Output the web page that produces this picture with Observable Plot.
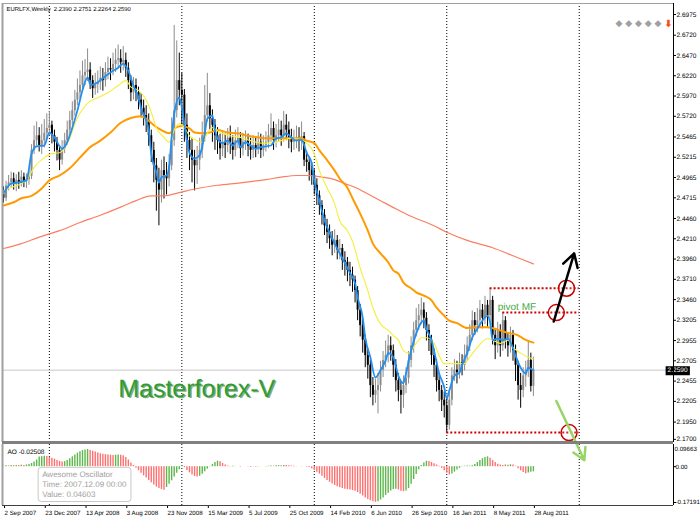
<!DOCTYPE html>
<html><head><meta charset="utf-8">
<script src="https://cdn.jsdelivr.net/npm/d3@7"></script>
<script src="https://cdn.jsdelivr.net/npm/@observablehq/plot@0.6"></script>
<style>
body{margin:0;background:#fff;}
#wrap{position:relative;width:700px;height:519px;overflow:hidden;background:#fff;}
#wrap svg{position:absolute;left:0;text-rendering:geometricPrecision;}
</style></head><body><div id="wrap"></div>
<script>
// ---------- data ----------
const symbol = "EURLFX", period = "Weekly";
const firstOpen = 2.476;
const closes = [
2.471,2.486,2.490,2.495,2.488,2.493,2.489,2.497,2.492,2.494,
2.498,2.530,2.542,2.548,2.536,2.542,2.551,2.557,2.561,2.548,
2.540,2.530,2.518,2.532,2.542,2.555,2.567,2.579,2.592,2.601,
2.610,2.622,2.626,2.629,2.616,2.606,2.611,2.614,2.619,2.616,
2.626,2.631,2.629,2.636,2.641,2.643,2.638,2.641,2.631,2.616,
2.601,2.610,2.601,2.592,2.582,2.573,2.567,2.548,2.530,2.511,
2.493,2.481,2.505,2.499,2.495,2.511,2.542,2.579,2.616,2.604,
2.598,2.561,2.542,2.530,2.518,2.511,2.518,2.530,2.548,2.573,
2.585,2.569,2.561,2.548,2.542,2.532,2.540,2.536,2.545,2.539,
2.530,2.542,2.545,2.532,2.540,2.542,2.535,2.530,2.536,2.532,
2.540,2.530,2.536,2.540,2.548,2.557,2.542,2.548,2.555,2.548,
2.561,2.555,2.545,2.540,2.542,2.545,2.542,2.547,2.518,2.515,
2.505,2.499,2.487,2.474,2.462,2.450,2.437,2.429,2.421,2.413,
2.419,2.407,2.409,2.394,2.392,2.382,2.376,2.370,2.357,2.333,
2.314,2.296,2.277,2.265,2.240,2.228,2.234,2.240,2.259,2.271,
2.277,2.289,2.283,2.265,2.246,2.234,2.228,2.240,2.249,2.271,
2.289,2.308,2.320,2.326,2.333,2.323,2.308,2.296,2.277,2.265,
2.246,2.234,2.222,2.215,2.191,2.222,2.252,2.259,2.256,2.268,
2.265,2.277,2.289,2.302,2.320,2.314,2.320,2.333,2.323,2.339,
2.326,2.345,2.302,2.289,2.308,2.289,2.320,2.296,2.289,2.302,
2.283,2.265,2.240,2.234,2.252,2.259,2.271,2.2390,2.2590];
const highs = [
2.485,2.492,2.499,2.503,2.502,2.500,2.503,2.505,2.502,2.501,
2.506,2.537,2.560,2.565,2.558,2.562,2.568,2.575,2.578,2.566,
2.555,2.546,2.536,2.542,2.551,2.566,2.578,2.590,2.604,2.618,
2.628,2.640,2.642,2.655,2.638,2.622,2.625,2.628,2.633,2.631,
2.638,2.645,2.643,2.650,2.655,2.660,2.654,2.658,2.650,2.638,
2.622,2.620,2.618,2.608,2.600,2.592,2.585,2.575,2.555,2.540,
2.520,2.508,2.518,2.522,2.515,2.525,2.570,2.684,2.665,2.650,
2.625,2.605,2.575,2.552,2.545,2.530,2.535,2.545,2.565,2.610,
2.625,2.600,2.580,2.568,2.558,2.550,2.552,2.550,2.557,2.560,
2.548,2.555,2.558,2.552,2.551,2.554,2.550,2.545,2.548,2.546,
2.552,2.550,2.548,2.553,2.562,2.575,2.565,2.562,2.568,2.566,
2.578,2.574,2.565,2.556,2.555,2.560,2.558,2.565,2.552,2.528,
2.522,2.515,2.506,2.495,2.480,2.468,2.457,2.445,2.438,2.430,
2.432,2.425,2.420,2.414,2.405,2.398,2.392,2.386,2.375,2.362,
2.340,2.322,2.302,2.285,2.272,2.250,2.248,2.255,2.270,2.282,
2.295,2.302,2.300,2.290,2.272,2.255,2.245,2.252,2.262,2.282,
2.300,2.318,2.335,2.340,2.348,2.342,2.330,2.315,2.302,2.285,
2.272,2.255,2.240,2.232,2.225,2.232,2.262,2.272,2.270,2.280,
2.278,2.290,2.300,2.315,2.332,2.330,2.335,2.345,2.340,2.350,
2.345,2.360,2.350,2.310,2.318,2.315,2.330,2.325,2.305,2.312,
2.308,2.290,2.270,2.255,2.262,2.270,2.295,2.280,2.2751];
const lows = [
2.465,2.467,2.480,2.484,2.481,2.479,2.482,2.485,2.484,2.483,
2.487,2.494,2.525,2.535,2.528,2.525,2.533,2.544,2.548,2.538,
2.528,2.517,2.505,2.512,2.526,2.536,2.549,2.561,2.572,2.585,
2.594,2.604,2.610,2.615,2.605,2.594,2.598,2.600,2.604,2.603,
2.608,2.617,2.616,2.622,2.626,2.630,2.625,2.628,2.620,2.605,
2.590,2.592,2.590,2.580,2.570,2.560,2.552,2.535,2.515,2.490,
2.455,2.437,2.465,2.470,2.475,2.485,2.505,2.535,2.570,2.585,
2.560,2.540,2.520,2.505,2.490,2.480,2.488,2.505,2.520,2.540,
2.565,2.555,2.540,2.530,2.525,2.518,2.522,2.520,2.527,2.525,
2.518,2.522,2.532,2.520,2.523,2.530,2.522,2.518,2.520,2.521,
2.525,2.520,2.522,2.528,2.532,2.540,2.530,2.533,2.540,2.535,
2.540,2.542,2.532,2.527,2.530,2.532,2.528,2.530,2.510,2.503,
2.492,2.487,2.475,2.462,2.450,2.438,2.425,2.415,2.408,2.400,
2.403,2.395,2.395,2.382,2.375,2.368,2.362,2.355,2.342,2.320,
2.300,2.280,2.262,2.248,2.225,2.215,2.218,2.205,2.232,2.250,
2.262,2.268,2.270,2.250,2.232,2.220,2.205,2.212,2.230,2.242,
2.262,2.280,2.300,2.308,2.315,2.310,2.295,2.282,2.265,2.250,
2.232,2.220,2.208,2.200,2.182,2.185,2.215,2.245,2.242,2.248,
2.252,2.258,2.270,2.282,2.295,2.302,2.305,2.312,2.310,2.315,
2.312,2.318,2.290,2.272,2.280,2.275,2.282,2.285,2.275,2.280,
2.270,2.245,2.222,2.212,2.225,2.238,2.250,2.232,2.2264];

// moving averages: [bar, value]
const maFast = [[0,2.477],[3,2.489],[5,2.490],[9,2.493],[11,2.526],[13,2.535],[16,2.536],[18,2.552],[20,2.546],[22,2.535],[23,2.532],[25,2.540],[27,2.558],[29,2.579],[31,2.604],[33,2.620],[34,2.612],[35,2.611],[37,2.614],[39,2.619],[42,2.626],[45,2.632],[47,2.637],[49,2.628],[51,2.610],[53,2.595],[54,2.582],[56,2.567],[57,2.555],[58,2.526],[60,2.503],[61,2.490],[62,2.497],[64,2.499],[65,2.509],[66,2.546],[67,2.575],[69,2.595],[70,2.583],[71,2.563],[72,2.542],[73,2.527],[75,2.520],[77,2.524],[79,2.551],[80,2.569],[82,2.573],[83,2.555],[84,2.545],[86,2.539],[88,2.542],[90,2.536],[92,2.542],[93,2.534],[95,2.540],[97,2.536],[99,2.532],[101,2.534],[103,2.535],[105,2.536],[107,2.545],[109,2.546],[111,2.551],[113,2.546],[115,2.542],[117,2.543],[119,2.527],[121,2.514],[122,2.493],[124,2.468],[126,2.444],[128,2.428],[130,2.415],[132,2.403],[134,2.391],[136,2.379],[138,2.366],[139,2.349],[141,2.324],[142,2.299],[144,2.275],[146,2.250],[148,2.259],[150,2.271],[151,2.280],[153,2.275],[155,2.252],[157,2.243],[158,2.255],[160,2.283],[162,2.304],[164,2.318],[165,2.320],[166,2.310],[168,2.296],[169,2.283],[171,2.255],[173,2.238],[174,2.224],[175,2.234],[177,2.252],[179,2.256],[180,2.265],[182,2.280],[184,2.299],[186,2.310],[188,2.320],[190,2.326],[191,2.318],[192,2.296],[194,2.298],[196,2.296],[198,2.298],[200,2.286],[201,2.277],[203,2.262],[205,2.255],[206,2.262],[208,2.259]];
const maMid = [[0,2.480],[2,2.483],[9,2.493],[12,2.509],[16,2.521],[19,2.526],[22,2.527],[25,2.538],[29,2.570],[33,2.588],[37,2.595],[41,2.601],[45,2.610],[48,2.616],[50,2.608],[53,2.604],[56,2.592],[58,2.577],[60,2.558],[63,2.546],[65,2.540],[67,2.555],[69,2.563],[71,2.558],[73,2.548],[76,2.542],[78,2.540],[80,2.551],[82,2.558],[85,2.552],[89,2.548],[93,2.546],[97,2.542],[101,2.539],[105,2.539],[109,2.542],[113,2.545],[117,2.543],[119,2.539],[122,2.526],[124,2.505],[127,2.484],[130,2.464],[132,2.443],[135,2.431],[137,2.418],[140,2.385],[143,2.357],[145,2.336],[148,2.316],[151,2.308],[153,2.302],[155,2.296],[157,2.283],[159,2.280],[162,2.292],[164,2.299],[166,2.299],[169,2.292],[171,2.277],[173,2.267],[177,2.267],[181,2.267],[183,2.275],[186,2.287],[190,2.298],[192,2.296],[195,2.292],[198,2.296],[200,2.287],[203,2.280],[206,2.275],[208,2.273]];
const maSlow = [[0,2.462],[4,2.466],[7,2.471],[11,2.474],[15,2.483],[18,2.493],[22,2.499],[26,2.508],[30,2.521],[34,2.534],[38,2.542],[42,2.552],[46,2.564],[50,2.570],[54,2.572],[56,2.569],[59,2.561],[62,2.555],[65,2.551],[67,2.557],[70,2.560],[73,2.557],[75,2.552],[78,2.551],[81,2.552],[84,2.555],[88,2.552],[92,2.551],[96,2.548],[100,2.546],[103,2.545],[106,2.545],[111,2.545],[117,2.545],[119,2.542],[122,2.539],[124,2.530],[127,2.518],[130,2.505],[132,2.495],[135,2.484],[137,2.471],[140,2.452],[143,2.431],[145,2.415],[148,2.403],[151,2.392],[153,2.382],[155,2.378],[157,2.367],[160,2.360],[162,2.355],[165,2.351],[168,2.345],[170,2.336],[173,2.326],[175,2.320],[178,2.317],[182,2.311],[186,2.312],[190,2.312],[194,2.309],[198,2.305],[202,2.302],[204,2.298],[208,2.293]];
const maLong = [[0,2.409],[7,2.415],[14,2.423],[22,2.431],[30,2.441],[38,2.450],[46,2.460],[52,2.468],[58,2.474],[63,2.474],[69,2.478],[76,2.483],[84,2.487],[93,2.490],[103,2.494],[109,2.497],[115,2.499],[119,2.499],[125,2.497],[130,2.494],[134,2.489],[139,2.483],[142,2.478],[148,2.468],[154,2.458],[159,2.450],[169,2.437],[174,2.429],[182,2.419],[192,2.410],[200,2.400],[208,2.390]];

// Awesome Oscillator, one value per bar
const aoValues = [
0.002,0.004,0.003,0.005,0.004,0.006,0.005,0.007,0.006,0.008,0.010,
0.015,0.022,0.032,0.04603,0.048,0.050,
0.049,0.045,0.040,0.036,0.030,0.025,0.022,0.024,
0.030,0.038,0.047,0.056,0.065,0.072,0.077,0.080,0.082,
0.078,0.074,0.070,0.066,0.062,0.060,0.058,0.056,0.055,0.054,0.055,0.056,0.055,0.052,
0.044,0.032,0.018,0.006,
-0.008,-0.020,-0.032,-0.044,-0.055,-0.066,-0.077,-0.088,-0.098,-0.105,-0.110,-0.113,
-0.100,-0.085,-0.068,-0.050,-0.032,-0.015,0.006,
-0.005,-0.018,-0.030,-0.040,-0.047,-0.050,-0.046,
-0.036,-0.024,-0.012,-0.002,
0.010,0.020,0.026,0.024,
0.015,0.008,0.003,0.001,
0.002,0.001,-0.001,-0.002,-0.001,0.000,-0.002,-0.003,-0.002,-0.003,-0.002,-0.001,0.000,0.001,0.002,0.003,0.002,0.004,0.005,0.004,0.006,0.005,0.004,0.003,0.002,0.001,0.000,-0.001,0.000,-0.002,-0.004,
-0.010,-0.018,-0.027,-0.036,-0.046,-0.056,-0.066,-0.075,-0.083,-0.090,-0.096,-0.101,-0.105,-0.108,-0.110,
-0.112,-0.115,-0.118,-0.124,-0.132,-0.141,-0.150,-0.158,-0.164,-0.168,-0.171,
-0.168,-0.160,-0.150,-0.138,-0.127,-0.117,-0.110,-0.108,-0.112,-0.118,-0.120,-0.117,-0.105,-0.085,-0.062,-0.038,-0.015,
0.005,0.018,0.026,0.025,
0.020,0.014,0.008,0.002,
-0.008,-0.020,-0.032,-0.040,-0.035,
-0.026,-0.016,-0.008,-0.002,
0.002,0.003,0.002,0.004,
0.010,0.020,0.030,0.038,0.044,0.047,
0.040,0.030,0.020,0.012,0.008,
0.006,0.008,0.007,0.009,0.008,0.002,
-0.010,-0.020,-0.028,-0.034,
-0.030,-0.027,-0.02508];

const priceTicks = [2.6975,2.6720,2.6470,2.6220,2.5970,2.5720,2.5465,2.5215,2.4965,2.4715,2.4460,2.4210,2.3960,2.3710,2.3460,2.3205,2.2955,2.2705,2.2455,2.2205,2.1950,2.1700];
const aoTicks = [0.09663, 0, -0.17191];
const aoTickLabels = ["0.09663", "0.00", "-0.17191"];
const dateTickBars = [0,16,32,48,64,80,96,112,128,144,160,176,192,208];
const dateTickLabels = ["2 Sep 2007","23 Dec 2007","13 Apr 2008","3 Aug 2008","23 Nov 2008","15 Mar 2009","5 Jul 2009","25 Oct 2009","14 Feb 2010","6 Jun 2010","26 Sep 2010","16 Jan 2011","8 May 2011","28 Aug 2011"];
const yearStartBars = [18, 70, 122, 174, 226];
const startDate = "2007-09-02";
const tooltipBar = 14;

// hand-drawn analysis objects (bar, price)
const levels = [{price: 2.360, from: 191, to: 226}, {price: 2.330, from: 196, to: 226}, {price: 2.182, from: 174, to: 226}];
const rings = [{bar: 221, price: 2.360}, {bar: 217, price: 2.330}, {bar: 222, price: 2.182}];
const upArrow = [{b1: 216, p1: 2.319, b2: 224, p2: 2.403}];
const downArrow = [{b1: 217, p1: 2.221, b2: 228, p2: 2.148}];
const brand = [{bar: 45, price: 2.236, label: "Masterforex-V"}];
const pivotNote = [{bar: 194, price: 2.337, label: "pivot MF"}];

// ---------- derived ----------
const FONT = "Liberation Sans";
const candles = closes.map((c, i) => {
  const open = i === 0 ? firstOpen : closes[i - 1];
  return {i, open, close: c, high: highs[i], low: lows[i], col: c >= open ? "#8c8c8c" : "#000000"};
});
const last = candles[candles.length - 1];
const aoData = aoValues.map((v, i) => ({i, v, col: (i === 0 || v > aoValues[i - 1]) ? "#5cb84a" : "#ff7070"}));
const xDomain = [-0.4, 263];
const yDomain = [2.1698, 2.7111];
const aoDomain = [-0.1863, 0.1062];
const fmt4 = d => d.toFixed(4);
const header = `${symbol},${period}  ${fmt4(last.open)} ${fmt4(last.high)} ${fmt4(last.low)} ${fmt4(last.close)}`;
const tipDate = d3.utcDay.offset(new Date(startDate + "T00:00:00Z"), tooltipBar * 7);
const tipText = `Awesome Oscillator\nTime: ${d3.utcFormat("%Y.%m.%d %H:%M")(tipDate)}\nValue: ${aoValues[tooltipBar].toFixed(5)}`;

const mainPlot = Plot.plot({
  width: 700, height: 444,
  marginTop: 3, marginBottom: 2, marginLeft: 2, marginRight: 27,
  x: {domain: xDomain, axis: null},
  y: {domain: yDomain, axis: null},
  color: {type: "identity"},
  style: {background: "transparent", overflow: "visible", fontFamily: FONT},
  marks: [
    Plot.ruleX(yearStartBars, {stroke: "#000", strokeDasharray: "1,2"}),
    Plot.ruleY([last.close], {stroke: "#c8c8c8"}),
    Plot.ruleX(candles, {x: "i", y1: "low", y2: "high", stroke: "col", strokeWidth: 1}),
    Plot.ruleX(candles, {x: "i", y1: "open", y2: "close", stroke: "col", strokeWidth: 2}),
    Plot.line(maLong, {x: d => d[0], y: d => d[1], stroke: "#fa7f62", strokeWidth: 1.2, curve: "monotone-x"}),
    Plot.line(maSlow, {x: d => d[0], y: d => d[1], stroke: "#ff9a00", strokeWidth: 2, curve: "monotone-x"}),
    Plot.line(maMid, {x: d => d[0], y: d => d[1], stroke: "#f3ef3c", strokeWidth: 1.1, curve: "monotone-x"}),
    Plot.line(maFast, {x: d => d[0], y: d => d[1], stroke: "#2190f0", strokeWidth: 1.8, curve: "monotone-x"}),
    Plot.ruleY(levels, {y: "price", x1: "from", x2: "to", stroke: "#d40000", strokeWidth: 2, strokeDasharray: "2,2"}),
    Plot.dot(rings, {x: "bar", y: "price", r: 8, stroke: "#c80000", strokeWidth: 1.5, fill: "#ffffff", fillOpacity: 0.15}),
    Plot.arrow(upArrow, {x1: "b1", y1: "p1", x2: "b2", y2: "p2", stroke: "#000", strokeWidth: 2.5, headLength: 9}),
    Plot.arrow(downArrow, {x1: "b1", y1: "p1", x2: "b2", y2: "p2", stroke: "#98d468", strokeWidth: 2.5, headLength: 8}),
    Plot.text(brand, {x: "bar", y: "price", text: "label", textAnchor: "start", fontSize: 25, fill: "#1f5f1f", fillOpacity: 0.55, dx: 1.5, dy: 1.5, fontFamily: FONT}),
    Plot.text(brand, {x: "bar", y: "price", text: "label", textAnchor: "start", fontSize: 25, fill: "#2e9e30", fontFamily: FONT}),
    Plot.text(pivotNote, {x: "bar", y: "price", text: "label", textAnchor: "start", fontSize: 10, fill: "#43a843", fontFamily: FONT}),
    Plot.text([header], {frameAnchor: "top-left", dx: 4, dy: 3, lineAnchor: "top", fontSize: 5.9, fill: "#000", fontFamily: FONT}),
    Plot.text(["◆ ◆ ◆ ◆ ◆"], {frameAnchor: "top-right", textAnchor: "end", lineAnchor: "middle", dx: -12, dy: 20, fontSize: 9, fill: "#a0a0a0", fontFamily: "DejaVu Sans"}),
    Plot.text(["⬇"], {frameAnchor: "top-right", textAnchor: "middle", lineAnchor: "middle", dx: -5, dy: 20, fontSize: 10, fill: "#ff4a10", fontWeight: "bold", fontFamily: "DejaVu Sans"}),
    Plot.axisY(priceTicks.slice(0, -1), {anchor: "right", label: null, tickSize: 2, tickPadding: 1, tickFormat: fmt4, fontSize: 6.5, fontFamily: FONT}),
    Plot.axisY(priceTicks.slice(-1), {anchor: "right", label: null, tickSize: 2, tickPadding: 1, tickFormat: fmt4, fontSize: 6.5, dy: -3, fontFamily: FONT}),
    Plot.text([last.close], {y: d => d, frameAnchor: "right", dx: 14, text: fmt4, fill: "#fff", fontSize: 6.5, fontFamily: FONT}),
    Plot.ruleY([yDomain[1]], {stroke: "#a0a0a0"}),
    Plot.ruleX([xDomain[0]], {stroke: "#a0a0a0", strokeWidth: 2}),
    Plot.ruleX([xDomain[1]], {stroke: "#000"}),
    Plot.ruleY([yDomain[0]], {stroke: "#808080", strokeWidth: 3})
  ]
});

const aoPlot = Plot.plot({
  width: 700, height: 75,
  marginTop: 0, marginBottom: 14, marginLeft: 2, marginRight: 27,
  x: {domain: xDomain, axis: null},
  y: {domain: aoDomain, axis: null},
  color: {type: "identity"},
  style: {background: "transparent", overflow: "visible", fontFamily: FONT},
  marks: [
    Plot.ruleX(yearStartBars, {stroke: "#000", strokeDasharray: "1,2"}),
    Plot.ruleX(aoData, {x: "i", y1: 0, y2: "v", stroke: "col", strokeWidth: 1.4}),
    Plot.text([aoValues[aoValues.length - 1]], {frameAnchor: "top-left", dx: 5, dy: 5, lineAnchor: "top", text: d => "AO " + d.toFixed(5), fontSize: 6.5, fill: "#000", fontFamily: FONT}),
    Plot.text([tipText], {x: tooltipBar, frameAnchor: "top", dx: 3, dy: 26, textAnchor: "start", lineAnchor: "top", fontSize: 8, lineHeight: 1.2, fill: "#a0a0a0", fontFamily: FONT}),
    Plot.axisY(aoTicks.slice(0, 1), {anchor: "right", label: null, tickSize: 0, tickPadding: 1, dy: 3, tickFormat: d => aoTickLabels[aoTicks.indexOf(d)], fontSize: 6.2, fontFamily: FONT}),
    Plot.axisY(aoTicks.slice(1), {anchor: "right", label: null, tickSize: 2, tickPadding: 0, tickFormat: d => aoTickLabels[aoTicks.indexOf(d)], fontSize: 6.2, fontFamily: FONT}),
    Plot.axisX(dateTickBars, {anchor: "bottom", label: null, tickSize: 3, tickPadding: 2, textAnchor: "start", dx: 1, tickFormat: d => dateTickLabels[dateTickBars.indexOf(d)], fontSize: 6.2, fontFamily: FONT}),
    Plot.ruleX([xDomain[0]], {stroke: "#a0a0a0", strokeWidth: 2}),
    Plot.ruleX([xDomain[1]], {stroke: "#000"}),
    Plot.ruleY([aoDomain[0]], {stroke: "#404040"})
  ]
});

const wrap = document.getElementById("wrap");
aoPlot.style.top = "444px";
mainPlot.style.top = "0px";
wrap.appendChild(aoPlot);
wrap.appendChild(mainPlot);

function findTexts(svg, str) {
  return Array.from(svg.querySelectorAll("text")).filter(t => t.textContent.startsWith(str));
}
function boxBehind(texts, fill, stroke, pad, rx) {
  texts.forEach(t => {
    const b = t.getBBox();
    const r = document.createElementNS("http://www.w3.org/2000/svg", "rect");
    r.setAttribute("x", b.x - pad[0]); r.setAttribute("y", b.y - pad[1]);
    r.setAttribute("width", b.width + 2 * pad[0]); r.setAttribute("height", b.height + 2 * pad[1]);
    r.setAttribute("fill", fill);
    if (stroke) r.setAttribute("stroke", stroke);
    if (rx) r.setAttribute("rx", rx);
    if (t.getAttribute("transform")) r.setAttribute("transform", t.getAttribute("transform"));
    t.parentNode.insertBefore(r, t);
  });
}
boxBehind(findTexts(mainPlot, fmt4(last.close)), "#000", null, [2, 1], 0);
boxBehind(findTexts(aoPlot, "Awesome"), "#ffffff", "#c8c8c8", [4, 3], 3);
</script></body></html>
